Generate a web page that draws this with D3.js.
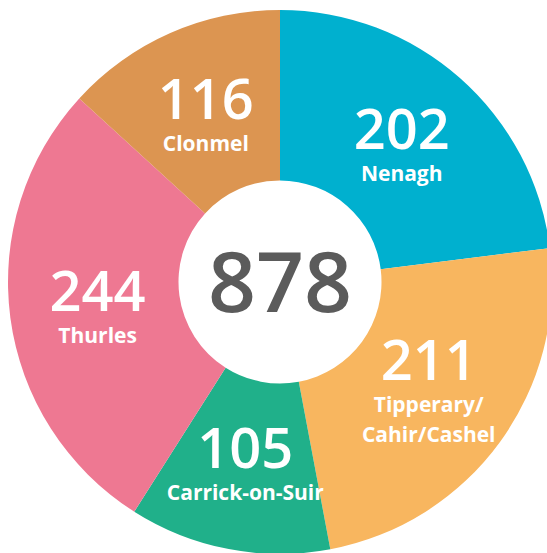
<!DOCTYPE html>
<html>
<head>
<meta charset="utf-8">
<script src="https://cdn.jsdelivr.net/npm/d3@7"></script>
<style>
  body { margin: 0; background: #fff; overflow: hidden; }
  svg { display: block; }
</style>
</head>
<body>
<div id="chart"></div>
<script>
// chart data
const towns = ["Nenagh", "Tipperary/Cahir/Cashel", "Carrick-on-Suir", "Thurles", "Clonmel"];
const labelLines = [["Nenagh"], ["Tipperary/", "Cahir/Cashel"], ["Carrick-on-Suir"], ["Thurles"], ["Clonmel"]];
const counts = [202, 211, 105, 244, 116];
const colours = ["#00b0cf", "#f8b65f", "#20b08a", "#ee7892", "#dc9551"];

let width = 547,
    height = 553,
    cx = 280, cy = 282, // centre of the donut
    outerR = 272,
    innerR = 101.5,
    labelR = 184;

const svg = d3.select("#chart")
  .append("svg")
  .attr("width", width)
  .attr("height", height);

const data = towns.map((t, i) => ({ town: t, lines: labelLines[i], count: counts[i], colour: colours[i] }));

const pie = d3.pie().sort(null).value(d => d.count); // keep order clockwise from 12 o'clock
const arcs = pie(data);

const arc = d3.arc().innerRadius(innerR).outerRadius(outerR);
const labelArc = d3.arc().innerRadius(labelR).outerRadius(labelR);

const g = svg.append("g").attr("transform", `translate(${cx},${cy})`);

g.selectAll("path")
  .data(arcs)
  .join("path")
  .attr("d", arc)
  .attr("fill", d => d.data.colour);

// labels: big number on top, town name underneath
const labels = g.selectAll("g.label")
  .data(arcs)
  .join("g")
  .attr("class", "label")
  .attr("transform", d => `translate(${labelArc.centroid(d)})`)
  .attr("fill", "#fff")
  .attr("text-anchor", "middle")
  .style("font-family", "'Open Sans', sans-serif");

labels.append("text")
  .attr("y", d => 5 - (d.data.lines.length - 1) * 15)
  .style("font-size", "56px")
  .style("font-weight", 600)
  .text(d => d.data.count);

labels.each(function(d) {
  const n = d.data.lines.length;
  d3.select(this).selectAll("text.name")
    .data(d.data.lines)
    .join("text")
    .attr("class", "name")
    .attr("y", (l, i) => 37 + i * 30 - (n - 1) * 15)
    .style("font-size", "21px")
    .style("font-weight", 700)
    .text(l => l);
});

// total in the middle
g.append("text")
  .attr("text-anchor", "middle")
  .attr("y", 30)
  .attr("fill", "#5b5b5b")
  .style("font-family", "'Open Sans', sans-serif")
  .style("font-size", "84px")
  .style("font-weight", 600)
  .text(d3.sum(counts));
</script>
</body>
</html>
